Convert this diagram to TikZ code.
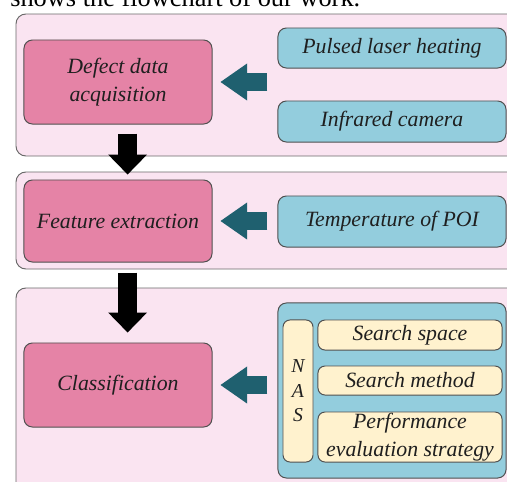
\documentclass[tikz,border=0pt]{standalone}
\usepackage{fontspec}
\setmainfont{Liberation Serif}
\usetikzlibrary{arrows.meta}
\definecolor{fcpanel}{RGB}{250,228,241}
\definecolor{fcstep}{RGB}{229,131,166}
\definecolor{fcin}{RGB}{147,205,221}
\definecolor{fccream}{RGB}{255,242,206}
\definecolor{fcteal}{RGB}{31,96,111}
\definecolor{fcedge}{RGB}{80,80,80}

\begin{document}
\begin{tikzpicture}[
    x=0.025cm, y=-0.025cm,
    tag/.style={font=\fontsize{15.5}{19.5}\selectfont\itshape, text=black!88},
    panel/.style={draw=fcedge!85, fill=fcpanel, line width=0.7pt, rounded corners=7pt},
    S/.style={tag, draw=fcedge, fill=fcstep, line width=0.7pt, rounded corners=6pt, align=center, inner sep=0pt, minimum width=4.7cm},
    I/.style={tag, draw=fcedge, fill=fcin, line width=0.7pt, rounded corners=6pt, align=center, inner sep=0pt, minimum width=5.7cm},
    C/.style={tag, draw=fcedge, fill=fccream, line width=0.7pt, rounded corners=5pt, align=center, inner sep=0pt},
    tarr/.style={draw=fcteal, line width=13.5pt, -{Triangle[line width=0pt, length=19pt, width=26.5pt]}},
    barr/.style={draw=black, line width=13.5pt, -{Triangle[line width=0pt, length=14.2pt, width=27.7pt]}},
  ]
  \useasboundingbox (0,0) rectangle (507,481);

  % caption line, cut off by the top of the page
  \node[font=\fontsize{18.75}{22}\selectfont, anchor=base west, inner sep=0pt] (cap) at (10,6) {shows the flowchart of our work.};

  %% ================= the three stages =================
  \draw[panel] (16,14)  rectangle (530,156);
  \draw[panel] (16,172) rectangle (530,269);
  \draw[panel] (16,288) rectangle (530,500);

  % stage 1: data
  \node[S, minimum height=2.1cm] (defect) at (118,82) {Defect data\\acquisition};
  \node[I, minimum height=1.0cm] (pulse)  at (392,48)    {Pulsed laser heating};
  \node[I, minimum height=1.025cm] (camera) at (392,121.5) {Infrared camera};

  % stage 2: features
  \node[S, minimum height=2.05cm] (feature) at (118,221) {Feature extraction};
  \node[I, minimum height=1.275cm] (temp)  at (392,221.5) {Temperature of POI};

  % stage 3: classifier found by the search
  \node[S, minimum height=2.1cm] (classif) at (118,385) {Classification};
  \node[I, minimum height=4.375cm] (nasbox) at (392,390.5) {};
  \node[C, minimum width=0.75cm, minimum height=3.55cm, font=\fontsize{14}{17.5}\selectfont\itshape] (nas) at (298,391) {N\\A\\S};
  \node[C, minimum width=4.6cm, minimum height=0.75cm]  (space)  at (410,335)   {Search space};
  \node[C, minimum width=4.6cm, minimum height=0.725cm] (method) at (410,380.5) {Search method};
  \node[C, minimum width=4.6cm, minimum height=1.25cm]  (perf)   at (410,437)   {Performance\\evaluation strategy};

  % inputs feed each stage
  \draw[tarr, shorten <=0.25cm, shorten >=0.2cm] (pulse.west |- defect.east) -- (defect.east);
  \draw[tarr, shorten <=0.25cm, shorten >=0.2cm] (temp.west |- feature.east) -- (feature.east);
  \draw[tarr, shorten <=0.25cm, shorten >=0.2cm] (nasbox.west |- classif.east) -- (classif.east);

  % stage to stage
  \draw[barr, shorten <=0.225cm, shorten >=0.125cm] ([xshift=0.24cm]defect.south) -- ([xshift=0.24cm]feature.north);
  \draw[barr, shorten <=0.25cm, shorten >=0.25cm] ([xshift=0.24cm]feature.south) -- ([xshift=0.24cm]classif.north);

\end{tikzpicture}
\end{document}
